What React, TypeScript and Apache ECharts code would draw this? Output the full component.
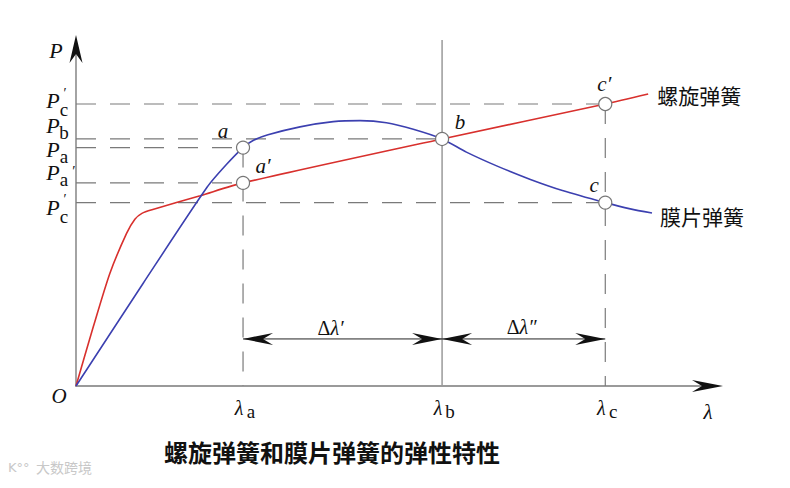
import React, { useEffect, useRef } from 'react';
import * as echarts from 'echarts';

// ---- data (axis units: λ 0..100, P 0..100) ----
const lambdaNames = ['a', 'b', 'c'];
const lambdaValues = [26.1, 57.2, 82.7]; // λa, λb, λc

const pSubs = ['c', 'b', 'a', 'a', 'c'];
const pPrimes = ['top', 'none', 'none', 'after', 'top'];
const pValues = [81.5, 71.4, 68.9, 58.7, 53.0]; // P′c, Pb, Pa, Pa′, P′c(lower)

const helicalCurve: [number, number][] = [
  [0, 0], [2.7, 17.1], [5.3, 32.6], [7.9, 44.1], [9.2, 48.2], [10.3, 49.9],
  [12.0, 51.0], [19.4, 55.0], [26.1, 58.7], [57.2, 71.4], [82.7, 81.5], [89.4, 84.4],
];
const diaphragmCurve: [number, number][] = [
  [0, 0], [10.5, 29.7], [20.5, 57.5], [23.5, 64.0], [26.1, 68.9], [27.6, 70.9], [30.0, 72.6],
  [35.0, 74.9], [40.2, 76.4], [44.4, 76.7], [48.5, 76.1], [52.7, 74.2], [57.2, 71.4],
  [61.0, 67.6], [66.0, 63.4], [71.0, 59.7], [76.0, 56.5], [82.7, 53.0], [86.6, 51.2], [90.0, 50.0],
];

const [LA, LB, LC] = lambdaValues;
const [PC1, PB, PA, PA1, PC] = pValues;

const pointNames = ['a', 'a′', 'b', 'c′', 'c'];
const pointCoords: [number, number][] = [[LA, PA], [LA, PA1], [LB, PB], [LC, PC1], [LC, PC]];

const seriesNames = ['螺旋弹簧', '膜片弹簧'];
const title = '螺旋弹簧和膜片弹簧的弹性特性';
const dimLabels = ['′', '″'];
const dimLevel = 13.6;
const watermark = '大数跨境';

// ---- styles ----
const RED = '#d8302d';
const BLUE = '#3c40b0';
const GUIDE = '#7a7a7a';
const SERIF = "'Liberation Serif', 'DejaVu Serif', serif";
const CJK = "'Noto Sans CJK SC', 'Noto Sans', sans-serif";
const DASH = [20, 14];

const pLabelDy = [-3.5, -13.5, 1.5, -10, 4.5];
const pointLabelOffsets = [[-20, -17], [20, -17], [18, -17], [-1, -20], [-11, -17.5]];

function guide(data: [number, number][], dashed: boolean, color = GUIDE, width = 1.2) {
  return {
    type: 'line',
    data,
    showSymbol: false,
    silent: true,
    z: 1,
    lineStyle: { color, width, type: dashed ? DASH : 'solid' },
  };
}

export default function App() {
  const ref = useRef<HTMLDivElement>(null);

  useEffect(() => {
    if (!ref.current) return;
    const chart = echarts.init(ref.current, null, { renderer: 'svg', width: 790, height: 488 });

    const guides: any[] = [
      guide([[0, PC1], [LC, PC1]], true),
      guide([[0, PB], [LB, PB]], true),
      guide([[0, PA], [LA, PA]], true),
      guide([[0, PA1], [LA, PA1]], true),
      guide([[0, PC], [LC, PC]], true),
      guide([[LA, PA], [LA, 0]], true),
      guide([[LC, PC1], [LC, 0]], true),
      guide([[LB, 100], [LB, 0]], false, '#9a9a9a', 1.5),
      guide([[LA, dimLevel], [LB, dimLevel]], false, '#222', 1),
      guide([[LB, dimLevel], [LC, dimLevel]], false, '#222', 1),
    ];

    const axisCommon = {
      type: 'value',
      min: 0,
      max: 100,
      axisLine: { show: true, onZero: false, lineStyle: { color: '#9a9a9a', width: 1.8 } },
      axisTick: { show: false },
      axisLabel: { show: false },
      splitLine: { show: false },
    };

    chart.setOption({
      animation: false,
      backgroundColor: '#ffffff',
      grid: { left: 76, top: 40, width: 640, height: 346 },
      xAxis: axisCommon,
      yAxis: axisCommon,
      series: [
        ...guides,
        {
          name: seriesNames[0], type: 'line', data: helicalCurve, smooth: 0.25, showSymbol: false,
          lineStyle: { color: RED, width: 1.6 }, z: 3, silent: true,
        },
        {
          name: seriesNames[1], type: 'line', data: diaphragmCurve, smooth: 0.25, showSymbol: false,
          lineStyle: { color: BLUE, width: 1.6 }, z: 3, silent: true,
        },
        {
          type: 'scatter', data: pointCoords, symbol: 'circle', symbolSize: 13, z: 5, silent: true,
          itemStyle: { color: '#ffffff', borderColor: '#777', borderWidth: 1.2, opacity: 1 },
        },
      ],
    });

    const px = (x: number, y: number) => chart.convertToPixel({ gridIndex: 0 }, [x, y]) as number[];

    const txt = (x: number, y: number, text: string, o: any = {}) => ({
      type: 'text', x, y, silent: true, z: 20,
      style: {
        text,
        fill: o.fill || '#111',
        fontSize: o.size || 20,
        fontFamily: o.family || SERIF,
        fontStyle: o.italic ? 'italic' : 'normal',
        fontWeight: o.weight || 'normal',
        textAlign: o.align || 'center', align: o.align || 'center',
        textVerticalAlign: 'middle', verticalAlign: 'middle',
        rich: o.rich,
      },
    });

    const arrow = (tip: number[], dir: number[], len: number, hw: number, notch: number) => {
      const perp = [-dir[1], dir[0]];
      const back = [tip[0] - dir[0] * len, tip[1] - dir[1] * len];
      const n = [tip[0] - dir[0] * (len - notch), tip[1] - dir[1] * (len - notch)];
      return {
        type: 'polygon', silent: true, z: 20,
        shape: {
          points: [
            tip,
            [back[0] + perp[0] * hw, back[1] + perp[1] * hw],
            n,
            [back[0] - perp[0] * hw, back[1] - perp[1] * hw],
          ],
        },
        style: { fill: '#111' },
      };
    };

    const els: any[] = [];
    const O = px(0, 0);
    const yTop = px(0, 100);
    const xEnd = px(100, 0);

    // axis arrows
    els.push(arrow([yTop[0], yTop[1] - 5], [0, -1], 28, 6.5, 9));
    els.push(arrow([xEnd[0] + 7, xEnd[1]], [1, 0], 31, 6, 10));

    // dimension arrows
    const dA = px(LA, dimLevel), dB = px(LB, dimLevel), dC = px(LC, dimLevel);
    els.push(arrow(dA, [-1, 0], 30, 6, 10));
    els.push(arrow(dB, [1, 0], 30, 6, 10));
    els.push(arrow(dB, [-1, 0], 30, 6, 10));
    els.push(arrow(dC, [1, 0], 30, 6, 10));

    const dimRich = {
      d: { fontFamily: SERIF, fontSize: 20, fontStyle: 'normal', fill: '#111' },
      l: { fontFamily: SERIF, fontSize: 20, fontStyle: 'italic', fill: '#111' },
    };
    els.push(txt((dA[0] + dB[0]) / 2 - 12, dA[1] - 11, `{d|Δ}{l|λ${dimLabels[0]}}`, { rich: dimRich }));
    els.push(txt((dB[0] + dC[0]) / 2 - 2, dB[1] - 12, `{d|Δ}{l|λ${dimLabels[1]}}`, { rich: dimRich }));

    // axis titles
    els.push(txt(O[0] - 20, yTop[1] + 10, 'P', { italic: true, size: 22 }));
    els.push(txt(O[0] - 17, O[1] + 10, 'O', { italic: true, size: 21 }));
    els.push(txt(xEnd[0] - 8, O[1] + 26, 'λ', { italic: true, size: 21 }));

    // λ tick labels
    lambdaValues.forEach((v, i) => {
      const p = px(v, 0);
      els.push(txt(p[0] - 4, p[1] + 22, 'λ', { italic: true, size: 20 }));
      els.push(txt(p[0] + 8, p[1] + 25, lambdaNames[i], { size: 19 }));
    });

    // P tick labels
    pValues.forEach((v, i) => {
      const p = px(0, v);
      const cy = p[1] + pLabelDy[i];
      els.push(txt(53, cy, 'P', { italic: true, size: 22 }));
      els.push(txt(64, cy + (pPrimes[i] === 'top' ? 9 : 7), pSubs[i], { size: 19 }));
      if (pPrimes[i] === 'top') els.push(txt(65, cy - 7.5, '′', { size: 14 }));
      if (pPrimes[i] === 'after') els.push(txt(74, cy - 2, '′', { size: 15 }));
    });

    // point labels
    pointCoords.forEach((c, i) => {
      const p = px(c[0], c[1]);
      els.push(txt(p[0] + pointLabelOffsets[i][0], p[1] + pointLabelOffsets[i][1], pointNames[i], { italic: true, size: 21 }));
    });

    // series labels
    const redEnd = px(...helicalCurve[helicalCurve.length - 1]);
    const blueEnd = px(...diaphragmCurve[diaphragmCurve.length - 1]);
    els.push(txt(redEnd[0] + 9, redEnd[1] + 1, seriesNames[0], { family: CJK, size: 21, align: 'left', fill: '#111' }));
    els.push(txt(blueEnd[0] + 8, blueEnd[1] + 3, seriesNames[1], { family: CJK, size: 21, align: 'left', fill: '#111' }));

    // title & watermark
    els.push(txt(332, 451, title, { family: CJK, size: 24, weight: 'bold', fill: '#111' }));
    els.push(txt(36, 467, watermark, { family: CJK, size: 14, align: 'left', fill: '#c8c8c8' }));
    els.push(txt(8, 467, 'K°°', { family: "'DejaVu Sans', sans-serif", size: 13, align: 'left', fill: '#c8c8c8' }));

    chart.setOption({ graphic: { elements: els } });

    return () => chart.dispose();
  }, []);

  return (
    <div
      ref={ref}
      style={{ position: 'fixed', left: 0, top: 0, width: 790, height: 488, background: '#fff' }}
    />
  );
}
